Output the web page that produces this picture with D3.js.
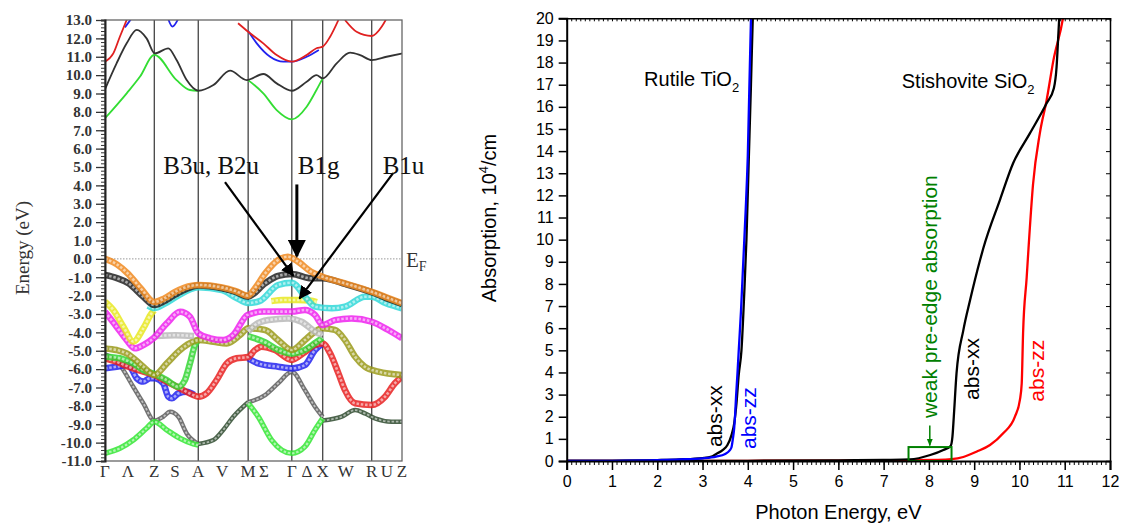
<!DOCTYPE html>
<html>
<head>
<meta charset="utf-8">
<script src="https://cdn.jsdelivr.net/npm/d3@7"></script>
<style>
  body { margin: 0; background: #fff; }
  svg { display: block; }
</style>
</head>
<body>
<div id="viz"></div>
<script>
// ---------- left panel: band structure ----------
const kLabels = ["Γ","Λ","Z","S","A","V","M","Σ","Γ","Δ","X","W","R","U","Z"];
const kPos    = [0, 0.077, 0.166, 0.236, 0.314, 0.394, 0.482, 0.535, 0.629, 0.680, 0.733, 0.811, 0.898, 0.949, 1.0];
const kLines  = [0.166, 0.314, 0.482, 0.629, 0.733, 0.898];
const energyTicks = d3.range(-11, 13.01, 1);

// bands as [k, E] pairs, null breaks the line
const bandOrange = [[0,0.0],[0.04,-0.3],[0.077,-0.8],[0.12,-1.6],[0.166,-2.35],[0.2,-2.15],[0.236,-1.8],[0.28,-1.5],[0.314,-1.42],[0.394,-1.55],[0.44,-1.75],[0.482,-2.0],[0.505,-1.6],[0.539,-0.8],[0.583,-0.06],[0.616,0.12],[0.65,-0.15],[0.694,-0.7],[0.733,-0.97],[0.808,-1.33],[0.898,-1.79],[0.949,-2.1],[1.0,-2.42]];
const bandBlack  = [[0,-0.88],[0.04,-1.05],[0.079,-1.33],[0.129,-2.06],[0.166,-2.51],[0.2,-2.3],[0.236,-1.95],[0.28,-1.6],[0.314,-1.45],[0.394,-1.6],[0.44,-1.8],[0.482,-2.05],[0.539,-1.33],[0.583,-0.93],[0.629,-0.82],[0.694,-1.06],[0.733,-1.05],[0.811,-1.38],[0.898,-1.82],[0.949,-2.15],[1.0,-2.45]];
const bandCyan   = [[0.145,-2.55],[0.166,-2.68],[0.2,-2.45],[0.236,-2.1],[0.314,-1.55],[0.394,-1.7],[0.44,-2.1],[0.482,-2.4],[0.52,-2.3],[0.583,-1.42],[0.629,-1.3],[0.674,-2.06],[0.707,-2.6],[0.764,-2.69],[0.808,-2.6],[0.875,-2.06],[0.898,-2.06],[0.946,-2.42],[1.0,-2.69]];
const bandYellow = [[0,-2.33],[0.028,-2.78],[0.062,-3.69],[0.095,-4.5],[0.129,-3.78],[0.157,-2.96],[0.166,-2.8],null,[0.56,-2.3],[0.6,-2.24],[0.65,-2.24],[0.69,-2.26],[0.713,-2.35]];
const bandMagenta= [[0,-2.88],[0.039,-3.69],[0.073,-4.42],[0.101,-4.87],[0.129,-4.69],[0.163,-4.32],[0.208,-3.51],[0.253,-2.88],[0.286,-3.15],[0.314,-4.05],[0.354,-4.32],[0.398,-4.42],[0.432,-4.14],[0.48,-3.05],[0.535,-2.87],[0.629,-2.87],[0.673,-2.78],[0.707,-3.05],[0.733,-3.6],[0.774,-3.33],[0.83,-3.24],[0.898,-3.42],[0.954,-3.87],[1.0,-4.32]];
const bandGray   = [[0.17,-4.2],[0.236,-4.15],[0.3,-4.2],null,[0.482,-3.95],[0.505,-3.6],[0.55,-3.33],[0.617,-3.24],[0.662,-3.42],[0.707,-3.96],[0.733,-4.14]];
const bandOlive  = [[0,-4.87],[0.039,-4.96],[0.073,-5.14],[0.129,-5.87],[0.166,-6.32],[0.208,-5.69],[0.253,-4.96],[0.297,-4.5],[0.314,-4.42],[0.365,-4.51],[0.41,-4.6],[0.455,-4.14],[0.482,-3.78],[0.539,-3.87],[0.583,-4.42],[0.629,-4.96],[0.673,-4.42],[0.707,-3.96],[0.733,-3.78],[0.774,-3.87],[0.808,-4.42],[0.842,-5.32],[0.875,-5.87],[0.92,-6.14],[1.0,-6.32]];
const bandGreen  = [[0,-5.32],[0.05,-5.41],[0.095,-5.69],[0.129,-6.05],[0.166,-6.27],[0.208,-6.6],[0.247,-6.96],[0.269,-6.6],[0.286,-5.69],[0.303,-4.69],[0.314,-4.42],null,[0.482,-4.2],[0.54,-4.55],[0.583,-4.95],[0.629,-5.15],[0.673,-4.95],[0.71,-4.55],[0.733,-4.3]];
const bandRed    = [[0,-5.41],[0.039,-5.6],[0.079,-5.87],[0.129,-6.14],[0.166,-6.32],[0.208,-6.68],[0.253,-7.05],[0.297,-7.41],[0.314,-7.5],[0.342,-7.32],[0.376,-6.59],[0.41,-5.69],[0.443,-5.41],[0.482,-5.34],[0.505,-4.96],[0.527,-4.78],[0.572,-4.96],[0.629,-5.5],[0.667,-5.14],[0.707,-4.69],[0.733,-4.6],[0.758,-5.14],[0.786,-6.23],[0.808,-7.14],[0.842,-7.86],[0.898,-7.95],[0.943,-7.5],[0.976,-6.77],[1.0,-6.41]];
const bandBlue   = [[0,-5.96],[0.039,-5.87],[0.079,-5.78],[0.107,-6.5],[0.129,-6.68],[0.152,-6.5],[0.166,-6.5],[0.196,-6.77],[0.213,-7.5],[0.225,-7.59],[0.247,-7.32],[0.275,-7.23],[0.3,-7.4],null,[0.482,-5.41],[0.516,-5.69],[0.583,-5.87],[0.629,-5.96],[0.673,-5.78],[0.707,-4.96],[0.733,-4.6]];
const bandDarkGray  = [[0,-5.2],[0.017,-5.32],[0.05,-5.78],[0.095,-6.96],[0.129,-7.86],[0.166,-8.8],[0.196,-8.59],[0.219,-8.32],[0.247,-8.59],[0.275,-9.5],[0.314,-10.07],null,[0.482,-7.8],[0.539,-7.41],[0.583,-6.77],[0.629,-6.14],[0.673,-7.14],[0.707,-8.05],[0.733,-8.6]];
const bandDarkGreen = [[0.314,-10.07],[0.365,-9.86],[0.398,-9.31],[0.432,-8.59],[0.482,-7.8],null,[0.733,-8.8],[0.797,-8.59],[0.842,-8.23],[0.875,-8.41],[0.909,-8.68],[0.965,-8.86],[1.0,-8.86]];
const bandLowGreen  = [[0,-10.58],[0.05,-10.31],[0.095,-9.86],[0.14,-9.22],[0.166,-8.86],[0.208,-9.31],[0.253,-9.77],[0.297,-10.07],[0.314,-10.13],null,[0.482,-7.86],[0.516,-8.59],[0.561,-9.86],[0.629,-10.58],[0.673,-10.22],[0.707,-9.31],[0.733,-8.68]];

// conduction bands
const condBlack = [[0,9.23],[0.039,10.64],[0.073,11.73],[0.107,12.46],[0.14,12.0],[0.168,11.18],[0.213,11.46],[0.241,10.82],[0.275,9.73],[0.314,9.15],[0.365,9.46],[0.421,10.24],[0.477,9.73],[0.533,10.06],[0.578,9.55],[0.629,9.15],[0.679,9.64],[0.712,10.0],[0.733,9.82],[0.78,10.64],[0.825,11.22],[0.859,11.09],[0.898,10.82],[0.948,11.0],[1.0,11.18]];
const condGreen = [[0,7.65],[0.073,9.01],[0.118,9.92],[0.166,11.1],[0.241,9.73],[0.286,9.19],[0.314,9.15],null,[0.482,9.73],[0.533,9.01],[0.578,8.1],[0.629,7.59],[0.679,8.28],[0.712,9.19],[0.733,9.82]];
const condRed   = [[0,10.73],[0.028,11.18],[0.05,12.09],[0.073,13.0],null,[0.448,12.82],[0.482,12.36],[0.533,11.73],[0.578,11.09],[0.629,10.73],[0.679,11.09],[0.712,11.46],[0.733,11.55],[0.758,12.09],[0.786,13.0],null,[0.808,13.0],[0.847,12.36],[0.898,12.13],[0.932,12.64],[0.948,13.09]];
const condBlue  = [[0.067,12.6],[0.09,13.1],null,[0.213,13.05],[0.227,12.64],[0.246,13.05],null,[0.482,12.4],[0.511,11.73],[0.556,11.0],[0.6,10.73],[0.629,10.73],[0.679,11.0],[0.72,11.37]];

// annotations: label [k, E] and arrow [kStart, EStart, kTip, ETip]
const arrowLabels = ["B3u, B2u", "B1g", "B1u"];
const arrowLabelPos = [[0.196, 4.6], [0.649, 4.6], [0.935, 4.6]];
const arrowLines = [[0.404, 4.18, 0.634, -0.92], [0.646, 4.05, 0.646, 0.15], [0.97, 4.67, 0.655, -2.15]];

// ---------- right panel: absorption ----------
const tio2XX_E = [0,1,2,2.5,3,3.2,3.31,3.45,3.55,3.64,3.7,3.75,3.8,3.86,3.92,3.97,4.02,4.07,4.11,4.13];
const tio2XX_A = [0,0.01,0.04,0.07,0.13,0.2,0.33,0.5,0.72,1.17,1.7,2.6,3.9,5,7.5,10,13.5,17,20,21];
const tio2ZZ_E = [0,1,2,2.5,3,3.3,3.5,3.6,3.64,3.67,3.7,3.72,3.74,3.77,3.8,3.85,3.9,3.95,4.0,4.07,4.1];
const tio2ZZ_A = [0,0.01,0.04,0.07,0.12,0.2,0.32,0.48,0.62,1.0,1.5,2.1,2.9,3.9,5.0,6.8,9,11.2,13.8,20,21.5];
const sio2XX_E = [0,2,4,6,7,7.58,8.03,8.32,8.48,8.52,8.55,8.61,8.76,8.91,9.13,9.2,9.57,9.86,10.23,10.6,10.76,10.82,10.86,10.88,10.9];
const sio2XX_A = [0,0.005,0.01,0.03,0.05,0.07,0.27,0.5,0.68,1.1,2.0,3.96,5.9,7.27,9.08,9.6,11.8,13.45,14.8,16.16,16.84,17.8,19.3,20.08,21];
const sio2ZZ_E = [0,2,4,6,7,7.58,8.2,8.5,8.76,9.05,9.35,9.64,9.9,10.01,10.05,10.08,10.16,10.2,10.3,10.45,10.6,10.75,10.97,11.0];
const sio2ZZ_A = [0,0.005,0.01,0.02,0.03,0.04,0.05,0.08,0.18,0.42,0.72,1.25,2.0,2.76,3.5,5.77,8.3,9.6,12.5,14.8,16.3,18.1,20.1,20.5];
const preEdgeBox = [7.55, 8.5, 0, 0.63];

const svg = d3.select("#viz").append("svg")
  .attr("width", 1122)
  .attr("height", 527);

// ===== left panel =====
const kx = d3.scaleLinear().domain([0, 1]).range([105, 402]);
const ey = d3.scaleLinear().domain([-11, 13]).range([461, 20]);
const serif = "'Liberation Serif', 'Times New Roman', serif";

const left = svg.append("g");
left.append("clipPath").attr("id", "clipL")
  .append("rect").attr("x", kx(0)).attr("y", ey(13)).attr("width", kx(1) - kx(0)).attr("height", ey(-11) - ey(13));

// Fermi level
left.append("line")
  .attr("x1", kx(0)).attr("x2", kx(1)).attr("y1", ey(0)).attr("y2", ey(0))
  .attr("stroke", "#999").attr("stroke-width", 1).attr("stroke-dasharray", "1.5,1.5");

// high-symmetry lines
left.selectAll(".kline").data(kLines).enter().append("line")
  .attr("x1", d => kx(d)).attr("x2", d => kx(d))
  .attr("y1", ey(13)).attr("y2", ey(-11))
  .attr("stroke", "#444").attr("stroke-width", 1.3);

const bandLine = d3.line()
  .defined(d => d !== null)
  .x(d => kx(d[0])).y(d => ey(d[1]))
  .curve(d3.curveMonotoneX);

const bandsG = left.append("g").attr("clip-path", "url(#clipL)");

const ringBands = [
  [bandDarkGray, "#5a5a5a", 4.5],
  [bandDarkGreen, "#2e4a2e", 4.5],
  [bandLowGreen, "#33e633", 5.5],
  [bandBlue, "#2222ee", 6.5],
  [bandRed, "#e82020", 6.5],
  [bandGreen, "#33d633", 6.5],
  [bandOlive, "#9a9a1a", 6.5],
  [bandGray, "#b8b8b8", 6.5],
  [bandMagenta, "#ee22ee", 6.5],
  [bandYellow, "#e8e820", 6.5],
  [bandCyan, "#30d8d8", 6.5],
  [bandBlack, "#222222", 6.5],
  [bandOrange, "#f08a20", 6.5]
];
ringBands.forEach(([data, color, w]) => {
  bandsG.append("path").datum(data)
    .attr("fill", "none").attr("stroke", color)
    .attr("stroke-width", w).attr("stroke-opacity", 0.85)
    .attr("d", bandLine);
  bandsG.append("path").datum(data)
    .attr("fill", "none").attr("stroke", "#fff")
    .attr("stroke-width", w * 0.4).attr("stroke-opacity", 0.55)
    .attr("stroke-dasharray", "2.5,1.8")
    .attr("d", bandLine);
});

const condBands = [
  [condGreen, "#33dd33"],
  [condBlack, "#333333"],
  [condBlue, "#2222ee"],
  [condRed, "#e02020"]
];
condBands.forEach(([data, color]) => {
  bandsG.append("path").datum(data)
    .attr("fill", "none").attr("stroke", color)
    .attr("stroke-width", 1.8)
    .attr("d", bandLine);
});

// frame
left.append("rect")
  .attr("x", kx(0)).attr("y", ey(13))
  .attr("width", kx(1) - kx(0)).attr("height", ey(-11) - ey(13))
  .attr("fill", "none").attr("stroke", "#666").attr("stroke-width", 1.3);

// y axis with dense minor ticks
left.append("g")
  .attr("transform", "translate(" + kx(0) + ",0)")
  .call(d3.axisLeft(ey).tickValues(d3.range(-11, 13.01, 0.2)).tickSize(4).tickFormat(""))
  .call(g => g.select(".domain").attr("stroke", "#222").attr("stroke-width", 2))
  .call(g => g.selectAll("line").attr("stroke", "#333"));
left.append("g")
  .attr("transform", "translate(" + kx(0) + ",0)")
  .call(d3.axisLeft(ey).tickValues(energyTicks).tickSize(9).tickPadding(4)
    .tickFormat(d => d3.format(".1f")(d).replace("−", "-")))
  .call(g => g.select(".domain").remove())
  .call(g => g.selectAll("line").attr("stroke", "#333").attr("stroke-width", 1.3))
  .call(g => g.selectAll("text").attr("font-family", serif).attr("font-size", 15)
    .attr("fill", "#333").attr("font-weight", "bold"));

// k labels
left.selectAll(".klab").data(kLabels).enter().append("text")
  .attr("x", (d, i) => kx(kPos[i])).attr("y", 477)
  .attr("text-anchor", "middle")
  .attr("font-family", serif).attr("font-size", 17).attr("fill", "#333")
  .text(d => d);

left.append("text")
  .attr("transform", "translate(29,248) rotate(-90)")
  .attr("text-anchor", "middle")
  .attr("font-family", serif).attr("font-size", 19).attr("fill", "#333")
  .text("Energy (eV)");

// E_F label
const ef = left.append("text")
  .attr("x", 406).attr("y", ey(0) + 8)
  .attr("font-family", serif).attr("font-size", 21).attr("fill", "#333");
ef.append("tspan").text("E");
ef.append("tspan").attr("font-size", 14).attr("dy", 4).text("F");

// arrows
const defs = svg.append("defs");
defs.append("marker").attr("id", "ahead")
  .attr("viewBox", "0 0 10 10").attr("refX", 9).attr("refY", 5)
  .attr("markerWidth", 6).attr("markerHeight", 6)
  .attr("markerUnits", "strokeWidth")
  .attr("orient", "auto")
  .append("path").attr("d", "M0,0 L10,5 L0,10 z").attr("fill", "#000");

left.selectAll(".arr").data(arrowLines).enter().append("line")
  .attr("x1", d => kx(d[0])).attr("y1", d => ey(d[1]))
  .attr("x2", d => kx(d[2])).attr("y2", d => ey(d[3]))
  .attr("stroke", "#000")
  .attr("stroke-width", (d, i) => i === 1 ? 3 : 2.2)
  .attr("marker-end", "url(#ahead)");

left.selectAll(".alab").data(arrowLabels).enter().append("text")
  .attr("x", (d, i) => kx(arrowLabelPos[i][0])).attr("y", (d, i) => ey(arrowLabelPos[i][1]))
  .attr("font-family", serif).attr("font-size", 25).attr("fill", "#111")
  .text(d => d);

// ===== right panel =====
const ax = d3.scaleLinear().domain([0, 12]).range([566.7, 1110]);
const ay = d3.scaleLinear().domain([0, 20]).range([461, 18.3]);
const sans = "'Liberation Sans', Arial, sans-serif";

const right = svg.append("g");
right.append("clipPath").attr("id", "clipR")
  .append("rect").attr("x", ax(0)).attr("y", ay(20)).attr("width", ax(12) - ax(0)).attr("height", ay(0) - ay(20));

const absLine = d3.line()
  .x(d => ax(d[0])).y(d => ay(d[1]))
  .curve(d3.curveMonotoneX);

const curves = [
  [d3.zip(sio2ZZ_E, sio2ZZ_A), "#ff0000"],
  [d3.zip(sio2XX_E, sio2XX_A), "#000000"],
  [d3.zip(tio2XX_E, tio2XX_A), "#000000"],
  [d3.zip(tio2ZZ_E, tio2ZZ_A), "#0000ff"]
];
const curvesG = right.append("g").attr("clip-path", "url(#clipR)");
curves.forEach(([data, color]) => {
  curvesG.append("path").datum(data)
    .attr("fill", "none").attr("stroke", color).attr("stroke-width", 2.3)
    .attr("d", absLine);
});

// pre-edge box
right.append("rect")
  .attr("x", ax(preEdgeBox[0])).attr("y", ay(preEdgeBox[3]))
  .attr("width", ax(preEdgeBox[1]) - ax(preEdgeBox[0]))
  .attr("height", ay(preEdgeBox[2]) - ay(preEdgeBox[3]))
  .attr("fill", "none").attr("stroke", "#008000").attr("stroke-width", 2);

// axes
right.append("g")
  .attr("transform", "translate(0," + ay(0) + ")")
  .call(d3.axisBottom(ax).tickValues(d3.range(0, 12.001, 0.1)).tickSize(4).tickFormat(""))
  .call(g => g.select(".domain").remove());
right.append("g")
  .attr("transform", "translate(0," + ay(0) + ")")
  .call(d3.axisBottom(ax).ticks(12).tickSize(9).tickPadding(6))
  .call(g => g.select(".domain").attr("stroke-width", 2))
  .call(g => g.selectAll("line").attr("stroke-width", 1.5))
  .call(g => g.selectAll("text").attr("font-family", sans).attr("font-size", 16).attr("fill", "#000"));

right.append("g")
  .attr("transform", "translate(" + ax(0) + ",0)")
  .call(d3.axisLeft(ay).ticks(20).tickSize(8).tickPadding(5))
  .call(g => g.select(".domain").attr("stroke-width", 2))
  .call(g => g.selectAll("line").attr("stroke-width", 1.5))
  .call(g => g.selectAll("text").attr("font-family", sans).attr("font-size", 16).attr("fill", "#000"));

right.append("g")
  .attr("transform", "translate(0," + ay(20) + ")")
  .call(d3.axisTop(ax).tickValues(d3.range(0, 12.001, 0.1)).tickSize(-3).tickFormat(""))
  .call(g => g.select(".domain").attr("stroke-width", 1.5));

right.append("g")
  .attr("transform", "translate(" + ax(12) + ",0)")
  .call(d3.axisRight(ay).ticks(20).tickSize(-4).tickFormat(""))
  .call(g => g.select(".domain").attr("stroke-width", 1.5));

// axis titles
right.append("text")
  .attr("x", (ax(0) + ax(12)) / 2).attr("y", 519)
  .attr("text-anchor", "middle")
  .attr("font-family", sans).attr("font-size", 20)
  .text("Photon Energy, eV");

const ylab = right.append("text")
  .attr("transform", "translate(496,218) rotate(-90)")
  .attr("text-anchor", "middle")
  .attr("font-family", sans).attr("font-size", 20);
ylab.append("tspan").text("Absorption, 10");
ylab.append("tspan").attr("font-size", 13).attr("dy", -8).text("4");
ylab.append("tspan").attr("dy", 8).text("/cm");

// material labels
function subLabel(xv, yv, main, sub) {
  const t = right.append("text")
    .attr("x", ax(xv)).attr("y", ay(yv))
    .attr("font-family", sans).attr("font-size", 20);
  t.append("tspan").text(main);
  t.append("tspan").attr("font-size", 13).attr("dy", 6).text(sub);
}
subLabel(1.71, 16.96, "Rutile TiO", "2");
subLabel(7.4, 16.85, "Stishovite SiO", "2");

// rotated curve labels
const rotLabels = [
  ["abs-xx", 3.43, 0.63, "#000"],
  ["abs-zz", 4.18, 0.54, "#0000ff"],
  ["abs-xx", 9.1, 2.76, "#000"],
  ["abs-zz", 10.55, 2.68, "#ff0000"],
  ["weak pre-edge absorption", 8.18, 1.94, "#008000"]
];
right.selectAll(".rl").data(rotLabels).enter().append("text")
  .attr("transform", d => "translate(" + ax(d[1]) + "," + ay(d[2]) + ") rotate(-90)")
  .attr("font-family", sans).attr("font-size", 21)
  .attr("fill", d => d[3])
  .text(d => d[0]);

// small green arrow pointing at the box
defs.append("marker").attr("id", "gtip")
  .attr("viewBox", "0 0 10 10").attr("refX", 9).attr("refY", 5)
  .attr("markerWidth", 5).attr("markerHeight", 5)
  .attr("orient", "auto")
  .append("path").attr("d", "M0,1 L10,5 L0,9 z").attr("fill", "#008000");
right.append("line")
  .attr("x1", ax(8.02)).attr("x2", ax(8.02))
  .attr("y1", ay(1.6)).attr("y2", ay(0.7))
  .attr("stroke", "#008000").attr("stroke-width", 1.5)
  .attr("marker-end", "url(#gtip)");
</script>
</body>
</html>
